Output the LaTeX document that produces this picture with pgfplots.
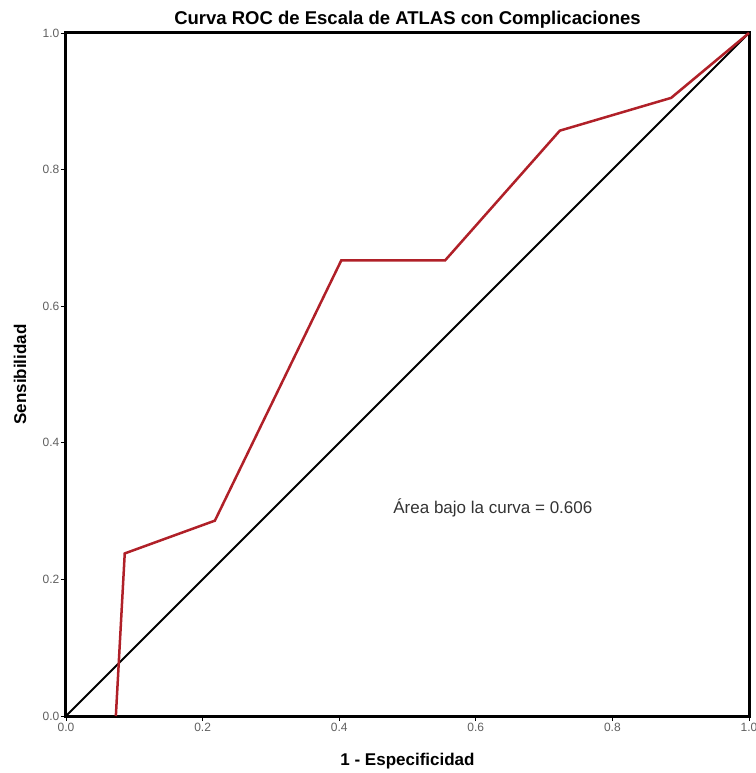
\documentclass[border=0pt]{standalone}
\usepackage{pgfplots}
\pgfplotsset{compat=1.18}
\usepackage{fontspec}
\setmainfont{Liberation Sans}
\definecolor{roc}{RGB}{176,32,40}
\definecolor{ticklab}{RGB}{95,95,95}
\begin{document}
\begin{tikzpicture}[x=1pt,y=1pt]
\useasboundingbox (-66,-57) rectangle (689,716);
\begin{axis}[
  at={(0,0)}, anchor=origin,
  scale only axis, width=683pt, height=683pt,
  xmin=0, xmax=1, ymin=0, ymax=1,
  axis line style={line width=3pt},
  xtick={0,0.2,0.4,0.6,0.8,1.0},
  ytick={0,0.2,0.4,0.6,0.8,1.0},
  xtick pos=left, ytick pos=left,
  tick align=outside, major tick length=5pt,
  tick style={black, line width=0.9pt},
  xticklabel style={font=\fontsize{12}{14}\selectfont, text=ticklab, inner sep=1.5pt},
  yticklabel style={font=\fontsize{12}{14}\selectfont, text=ticklab, inner sep=1.5pt},
  /pgf/number format/.cd, fixed, fixed zerofill, precision=1, assume math mode=true,
  /pgfplots/.cd,
  title={\bfseries Curva ROC de Escala de ATLAS con Complicaciones},
  title style={font=\fontsize{18.5}{20}\selectfont, at={(0.5,1)}, anchor=base, yshift=2.5pt},
  xlabel={\bfseries 1 - Especificidad},
  ylabel={\bfseries Sensibilidad},
  label style={font=\fontsize{17}{19}\selectfont},
  xlabel style={at={(0.5,0)}, anchor=base, yshift=-49pt},
  ylabel style={at={(0,0.5)}, anchor=center, yshift=46pt},
  clip=false,
]
\addplot[black, line width=2pt] coordinates {(0,0) (1,1)};
\addplot[roc, line width=2.5pt, line join=miter] coordinates {
(0.073,0) (0.086,0.238) (0.218,0.286) (0.403,0.667) (0.555,0.667) (0.723,0.857) (0.886,0.905) (1,1)};
\node[font=\fontsize{17}{19}\selectfont, text=black!80] at (axis cs:0.625,0.305) {Área bajo la curva = 0.606};
\end{axis}
\end{tikzpicture}
\end{document}
